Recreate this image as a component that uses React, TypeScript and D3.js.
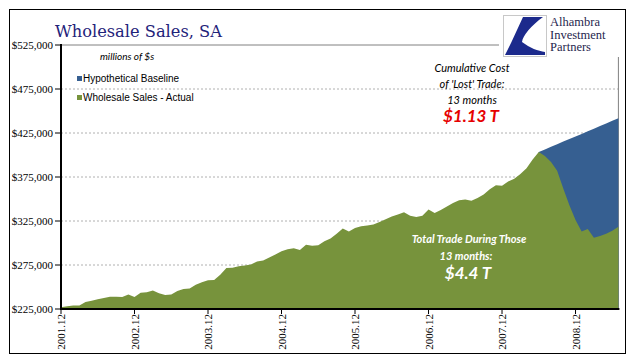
import React from "react";
import * as d3 from "d3";

const W = 641;
const H = 358;

// Wholesale sales, SA, millions of $ — monthly from 2001.12 to 2009.07
const actual: number[] = [
  227000, 228000, 229000, 229000, 233000, 234500, 236000, 237500, 239000, 239000,
  238700, 241600, 238600, 243500, 244000, 246000, 243000, 241000, 241500, 245500,
  247800, 248300, 252500, 255500, 257600, 258000, 264000, 271500, 272000, 273500,
  274500, 275500, 279000, 280000, 283500, 287000, 290500, 293000, 294000, 292000,
  298000, 297000, 297500, 302000, 305000, 310500, 316500, 313000, 317000, 319000,
  320000, 321000, 324000, 327000, 330000, 332500, 335000, 331000, 329500, 331000,
  338000, 334000, 337500, 341500, 345500, 348500, 349500, 348000, 351000, 355000,
  361000, 365500, 365000, 370000, 373000, 378500, 385000, 395000, 403400, 399000,
  392000, 382000, 362000, 343000, 326000, 313000, 316000, 306000, 308000, 310500,
  314000, 318500,
];

// Hypothetical baseline, from the peak month (index 78) to the last month (index 91)
const baselineStart = 78;
const baseline: number[] = [
  403400, 406300, 409300, 412200, 415200, 418100, 421100, 424000, 427000, 429900,
  432900, 435800, 438800, 441700,
];

const yTicks: number[] = [225000, 275000, 325000, 375000, 425000, 475000, 525000];
const xTickIndex: number[] = [0, 12, 24, 36, 48, 60, 72, 84];
const xTickLabels: string[] = ["2001.12", "2002.12", "2003.12", "2004.12", "2005.12", "2006.12", "2007.12", "2008.12"];

const legendLabels: string[] = ["Hypothetical Baseline", "Wholesale Sales - Actual"];
const logoLines: string[] = ["Alhambra", "Investment", "Partners"];

const GREEN = "#77933c";
const BLUE = "#365f91";

export default function App() {
  const left = 61, right = 618.4, top = 45, bottom = 309;
  const x = d3.scaleLinear().domain([0, actual.length - 1]).range([left, right]);
  const y = d3.scaleLinear().domain([225000, 525000]).range([bottom, top]);

  const areaGen = d3
    .area<[number, number]>()
    .x((d) => x(d[0]))
    .y0(y(225000))
    .y1((d) => y(d[1]));

  const actualPts: [number, number][] = actual.map((v, i) => [i, v]);
  const basePts: [number, number][] = baseline.map((v, i) => [baselineStart + i, v]);

  const fmt = (v: number) => "$" + d3.format(",")(v);

  return (
    <svg width={W} height={H} style={{ position: "absolute", left: 0, top: 0, background: "#fff" }}>
      <rect x={0} y={0} width={W} height={H} fill="#fff" />
      {/* outer frame */}
      <rect x={9.5} y={9.5} width={616} height={344} fill="none" stroke="#000" strokeWidth={1} />

      {/* title */}
      <text x={55} y={37} fontFamily="'DejaVu Serif', serif" fontSize={17.5} fill="#1f237a" textLength={167} lengthAdjust="spacingAndGlyphs">
        Wholesale Sales, SA
      </text>

      {/* gridlines */}
      {yTicks.slice(1, -1).map((t) => (
        <line key={t} x1={left} x2={right} y1={y(t)} y2={y(t)} stroke="#b0b0b0" strokeWidth={1} strokeDasharray="2,2" />
      ))}
      {/* plot box top & right */}
      <line x1={left} x2={right} y1={y(525000)} y2={y(525000)} stroke="#808080" strokeWidth={1} />
      <line x1={right} x2={right} y1={top} y2={bottom} stroke="#808080" strokeWidth={1} />

      {/* areas */}
      <path d={areaGen(basePts) || ""} fill={BLUE} />
      <path d={areaGen(actualPts) || ""} fill={GREEN} />

      {/* axes */}
      <line x1={left} x2={left} y1={top - 1} y2={bottom + 1} stroke="#000" strokeWidth={2} />
      <line x1={left - 1} x2={right + 1} y1={bottom} y2={bottom} stroke="#000" strokeWidth={2} />
      {yTicks.map((t) => (
        <g key={t}>
          <line x1={left - 6} x2={left} y1={y(t)} y2={y(t)} stroke="#000" strokeWidth={1} />
          <text x={53} y={y(t) + 4} textAnchor="end" fontFamily="'Liberation Serif', serif" fontSize={11} fill="#000">
            {fmt(t)}
          </text>
        </g>
      ))}
      {xTickIndex.map((idx, k) => (
        <g key={idx}>
          <line x1={x(idx)} x2={x(idx)} y1={bottom} y2={bottom + 5} stroke="#000" strokeWidth={1} />
          <text
            transform={`translate(${x(idx) + 4},${bottom + 5}) rotate(-90)`}
            textAnchor="end"
            fontFamily="'Liberation Serif', serif"
            fontSize={11}
            fill="#000"
          >
            {xTickLabels[k]}
          </text>
        </g>
      ))}

      {/* legend */}
      <text x={100} y={60} fontFamily="Lato, sans-serif" fontStyle="italic" fontSize={10} fill="#000">
        millions of $s
      </text>
      {legendLabels.map((lab, i) => (
        <g key={lab}>
          <rect x={77} y={76 + i * 19} width={5} height={5} fill={i === 0 ? BLUE : GREEN} />
          <text x={83} y={82 + i * 19} fontFamily="'Liberation Sans', Arial, sans-serif" fontSize={10} fill="#000">
            {lab}
          </text>
        </g>
      ))}

      {/* annotation: cumulative cost */}
      <g fontFamily="Lato, sans-serif" fontStyle="italic" textAnchor="middle">
        <text x={472} y={72} fontSize={11} fill="#000">Cumulative Cost</text>
        <text x={472} y={88} fontSize={11} fill="#000">of 'Lost' Trade:</text>
        <text x={472} y={104} fontSize={11} fill="#000">13 months</text>
        <text x={471} y={122} fontSize={17} fontWeight="bold" fill="#e60000">$1.13 T</text>
      </g>

      {/* annotation: total trade */}
      <g fontFamily="Lato, sans-serif" fontStyle="italic" textAnchor="middle" fill="#fff">
        <text x={469} y={243} fontSize={11} fontWeight="bold">Total Trade During Those</text>
        <text x={466} y={260} fontSize={11} fontWeight="bold">13 months:</text>
        <text x={468} y={279} fontSize={17} fontWeight="bold">$4.4 T</text>
      </g>

      {/* logo */}
      <rect x={499} y={10} width={126} height={47} fill="#fff" />
      <rect x={503.5} y={15.5} width={43} height={41} fill="#fff" stroke="#c8c8c8" strokeWidth={1} />
      <path
        d="M 523 17 L 543 17 C 531 26 523 35 522 42 C 530 48 538 51 545 52 L 545 55 L 505 55 L 511 43 Z"
        fill="#1c2a8c"
      />
      <g fontFamily="'Liberation Serif', serif" fontSize={12.5} fill="#1f1f4e">
        {logoLines.map((l, i) => (
          <text key={l} x={550} y={26 + i * 12.5}>{l}</text>
        ))}
      </g>
    </svg>
  );
}
